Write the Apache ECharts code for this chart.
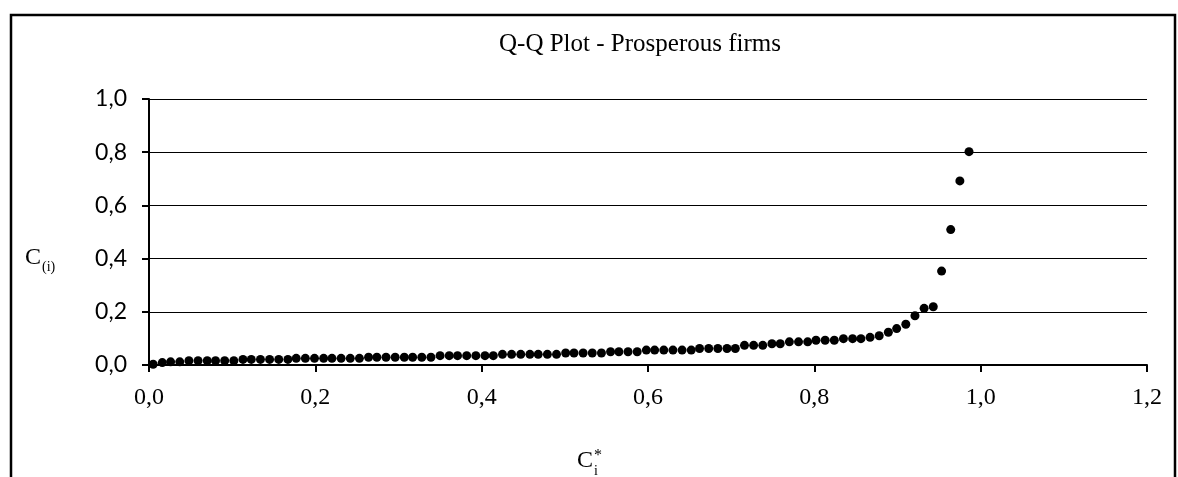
<!DOCTYPE html>
<html>
<head>
<meta charset="utf-8">
<script src="https://cdn.jsdelivr.net/npm/echarts@6/dist/echarts.min.js"></script>
<style>
  html, body { margin: 0; padding: 0; background: #fff; }
  #chart { width: 1178px; height: 477px; }
</style>
</head>
<body>
<div id="chart"></div>
<script>
// Theoretical quantiles C_i* (x)
const xValues = [
  0.005, 0.016, 0.026, 0.037, 0.048, 0.059, 0.070, 0.080, 0.091, 0.102,
  0.113, 0.123, 0.134, 0.145, 0.156, 0.167, 0.177, 0.188, 0.199, 0.210,
  0.220, 0.231, 0.242, 0.253, 0.264, 0.274, 0.285, 0.296, 0.307, 0.317,
  0.328, 0.339, 0.350, 0.361, 0.371, 0.382, 0.393, 0.404, 0.414, 0.425,
  0.436, 0.447, 0.458, 0.468, 0.479, 0.490, 0.501, 0.511, 0.522, 0.533,
  0.544, 0.555, 0.565, 0.576, 0.587, 0.598, 0.608, 0.619, 0.630, 0.641,
  0.652, 0.662, 0.673, 0.684, 0.695, 0.705, 0.716, 0.727, 0.738, 0.749,
  0.759, 0.770, 0.781, 0.792, 0.802, 0.813, 0.824, 0.835, 0.846, 0.856,
  0.867, 0.878, 0.889, 0.899, 0.910, 0.921, 0.932, 0.943, 0.953, 0.964,
  0.975, 0.986
];
const yValues = [
  0.003, 0.009, 0.012, 0.012, 0.016, 0.016, 0.016, 0.016, 0.016, 0.016,
  0.021, 0.021, 0.021, 0.021, 0.021, 0.021, 0.025, 0.025, 0.025, 0.025,
  0.025, 0.025, 0.025, 0.025, 0.029, 0.029, 0.029, 0.029, 0.029, 0.029,
  0.029, 0.029, 0.035, 0.035, 0.035, 0.035, 0.035, 0.035, 0.035, 0.040,
  0.040, 0.040, 0.040, 0.040, 0.040, 0.040, 0.045, 0.045, 0.045, 0.045,
  0.045, 0.050, 0.050, 0.050, 0.050, 0.056, 0.056, 0.056, 0.056, 0.056,
  0.056, 0.062, 0.062, 0.062, 0.062, 0.062, 0.074, 0.074, 0.074, 0.080,
  0.080, 0.087, 0.087, 0.087, 0.093, 0.093, 0.093, 0.099, 0.099, 0.099,
  0.104, 0.110, 0.123, 0.137, 0.153, 0.185, 0.213, 0.219, 0.353, 0.509,
  0.692, 0.802
];
const titleText = 'Q-Q Plot - Prosperous firms';
const xTicks = [0, 0.2, 0.4, 0.6, 0.8, 1.0, 1.2];
const yTicks = [0, 0.2, 0.4, 0.6, 0.8, 1.0];

const fmt = v => v.toFixed(1).replace('.', ',');
const points = xValues.map((x, i) => [x, yValues[i]]);

const chart = echarts.init(document.getElementById('chart'), null, { renderer: 'canvas' });
chart.setOption({
  backgroundColor: '#ffffff',
  animation: false,
  title: {
    text: titleText,
    left: 635,
    top: 27,
    textAlign: 'center',
    textStyle: { fontFamily: 'Liberation Serif', fontSize: 25, fontWeight: 'normal', color: '#000' }
  },
  grid: { left: 149, right: 31, top: 99, bottom: 112 },
  xAxis: {
    type: 'value',
    min: xTicks[0],
    max: xTicks[xTicks.length - 1],
    interval: 0.2,
    axisLine: { show: true, lineStyle: { color: '#000', width: 2 } },
    axisTick: { show: true, inside: false, length: 7, lineStyle: { color: '#000', width: 2 } },
    splitLine: { show: false },
    axisLabel: {
      margin: 21,
      formatter: fmt,
      fontFamily: 'Liberation Serif',
      fontSize: 24,
      color: '#000'
    }
  },
  yAxis: {
    type: 'value',
    min: yTicks[0],
    max: yTicks[yTicks.length - 1],
    interval: 0.2,
    axisLine: { show: true, lineStyle: { color: '#000', width: 2 } },
    axisTick: { show: true, inside: false, length: 7, lineStyle: { color: '#000', width: 2 } },
    splitLine: { show: true, lineStyle: { color: '#000', width: 1.2 } },
    axisLabel: {
      margin: 22,
      formatter: fmt,
      fontFamily: 'Lato',
      fontSize: 23,
      color: '#000'
    }
  },
  series: [{
    type: 'scatter',
    data: points,
    symbol: 'circle',
    symbolSize: 9,
    itemStyle: { color: '#000', opacity: 1 },
    silent: true
  }],
  graphic: [
    {
      type: 'rect',
      silent: true,
      z: -10,
      shape: { x: 11, y: 15, width: 1164, height: 520 },
      style: { fill: 'none', stroke: '#000', lineWidth: 2.5 }
    },
    {
      type: 'text',
      silent: true,
      x: 25, y: 246,
      style: { text: 'C', font: '24px "Liberation Serif"', fill: '#000' }
    },
    {
      type: 'text',
      silent: true,
      x: 42, y: 260,
      style: { text: '(i)', font: '14px "Liberation Serif"', fill: '#000' }
    },
    {
      type: 'text',
      silent: true,
      x: 577, y: 449,
      style: { text: 'C', font: '24px "Liberation Serif"', fill: '#000' }
    },
    {
      type: 'text',
      silent: true,
      x: 594, y: 464,
      style: { text: 'i', font: '14px "Liberation Serif"', fill: '#000' }
    },
    {
      type: 'text',
      silent: true,
      x: 594, y: 448,
      style: { text: '*', font: '16px "Liberation Serif"', fill: '#000' }
    }
  ]
});
</script>
</body>
</html>
